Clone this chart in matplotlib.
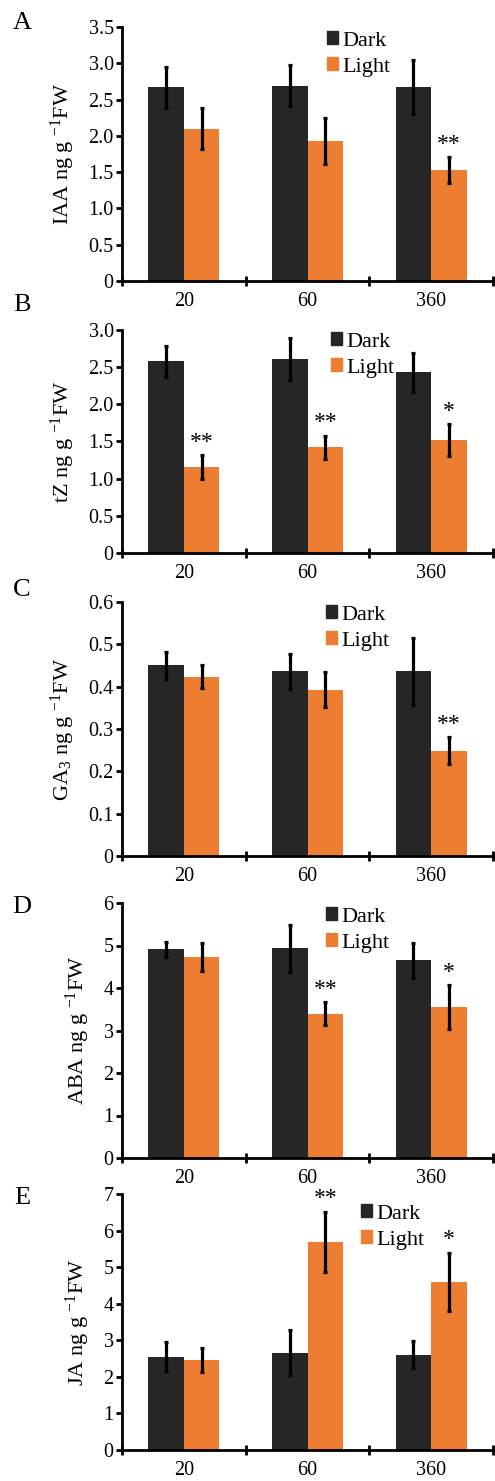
import matplotlib
matplotlib.use("Agg")
import matplotlib.pyplot as plt
import matplotlib.patches as mpatches
import numpy as np

plt.rcParams['font.family'] = ['Liberation Serif', 'DejaVu Serif']
plt.rcParams['mathtext.fontset'] = 'custom'
plt.rcParams['mathtext.rm'] = 'Liberation Serif'
plt.rcParams['mathtext.it'] = 'Liberation Serif:italic'

# time points (x categories)
categories = ['20', '60', '360']
series_names = ['Dark', 'Light']

# panel A: IAA
iaa_dark = [2.67, 2.69, 2.67]
iaa_dark_err = [0.28, 0.28, 0.37]
iaa_light = [2.10, 1.93, 1.53]
iaa_light_err = [0.28, 0.32, 0.18]
iaa_stars = ['', '', '**']

# panel B: tZ
tz_dark = [2.58, 2.61, 2.43]
tz_dark_err = [0.21, 0.28, 0.26]
tz_light = [1.16, 1.42, 1.52]
tz_light_err = [0.16, 0.16, 0.22]
tz_stars = ['**', '**', '*']

# panel C: GA3
ga_dark = [0.451, 0.436, 0.436]
ga_dark_err = [0.032, 0.042, 0.080]
ga_light = [0.424, 0.393, 0.249]
ga_light_err = [0.028, 0.042, 0.032]
ga_stars = ['', '', '**']

# panel D: ABA
aba_dark = [4.91, 4.93, 4.65]
aba_dark_err = [0.17, 0.55, 0.41]
aba_light = [4.73, 3.40, 3.55]
aba_light_err = [0.33, 0.28, 0.51]
aba_stars = ['', '**', '*']

# panel E: JA
ja_dark = [2.55, 2.66, 2.61]
ja_dark_err = [0.39, 0.62, 0.38]
ja_light = [2.46, 5.70, 4.60]
ja_light_err = [0.34, 0.82, 0.80]
ja_stars = ['', '**', '*']

panels = [
    ('A', 'IAA ng g $^{-1}$FW', iaa_dark, iaa_dark_err, iaa_light, iaa_light_err, iaa_stars,
     [0, 0.5, 1.0, 1.5, 2.0, 2.5, 3.0, 3.5]),
    ('B', 'tZ ng g $^{-1}$FW', tz_dark, tz_dark_err, tz_light, tz_light_err, tz_stars,
     [0, 0.5, 1.0, 1.5, 2.0, 2.5, 3.0]),
    ('C', 'GA$_{3}$ ng g $^{-1}$FW', ga_dark, ga_dark_err, ga_light, ga_light_err, ga_stars,
     [0, 0.1, 0.2, 0.3, 0.4, 0.5, 0.6]),
    ('D', 'ABA ng g $^{-1}$FW', aba_dark, aba_dark_err, aba_light, aba_light_err, aba_stars,
     [0, 1, 2, 3, 4, 5, 6]),
    ('E', 'JA ng g $^{-1}$FW', ja_dark, ja_dark_err, ja_light, ja_light_err, ja_stars,
     [0, 1, 2, 3, 4, 5, 6, 7]),
]

W, H = 495, 1481
# axes boxes in pixels: (top, bottom)
boxes = [(27, 281), (330, 553), (602, 856), (903, 1158), (1194, 1450)]
# legend anchor (x of square, y midway between rows), pixels from top
legend_pos = [(327, 54), (331, 355), (326, 628), (326, 930), (361, 1227)]
letter_y = [23, 305, 590, 907, 1198]

dark_c = '#262626'
light_c = '#ED7D31'

fig = plt.figure(figsize=(W / 100, H / 100), dpi=100)

x = np.arange(len(categories))
bw = 0.287

for k, (letter, ylab, dk, dke, lt, lte, stars, yticks) in enumerate(panels):
    top, bot = boxes[k]
    ax = fig.add_axes([122 / W, 1 - bot / H, (493 - 122) / W, (bot - top) / H])
    ekw = dict(elinewidth=2.3, capsize=1.7, capthick=2.3, ecolor='black')
    ax.bar(x - bw / 2, dk, bw, color=dark_c, yerr=dke, error_kw=ekw, zorder=2)
    ax.bar(x + bw / 2, lt, bw, color=light_c, yerr=lte, error_kw=ekw, zorder=2)

    ymax = yticks[-1]
    for i, s in enumerate(stars):
        if s:
            ax.annotate(s, (x[i] + bw / 2, lt[i] + lte[i]), xytext=(0, 1.5),
                        textcoords='offset points', ha='center', va='bottom',
                        fontsize=17)

    ax.set_xlim(-0.5, 2.5)
    ax.set_ylim(0, ymax)
    ax.set_xticks([-0.5, 0.5, 1.5, 2.5])
    ax.set_xticklabels([])
    ax.set_xticks(x, minor=True)
    ax.set_xticklabels(categories, minor=True)
    ax.tick_params(axis='x', which='major', direction='inout', length=7, width=2)
    ax.tick_params(axis='x', which='minor', length=0, pad=8, labelsize=14.5)
    ax.set_yticks(yticks)
    ax.set_yticklabels(['0' if v == 0 else (f'{v:.1f}' if ymax < 5 else f'{v:g}') for v in yticks])
    ax.tick_params(axis='y', direction='out', length=4, width=2, pad=2, labelsize=14.5)

    for side in ['top', 'right']:
        ax.spines[side].set_visible(False)
    for side in ['left', 'bottom']:
        ax.spines[side].set_linewidth(2)

    ax.set_ylabel(ylab, fontsize=16, labelpad=8)

    handles = [mpatches.Patch(color=dark_c), mpatches.Patch(color=light_c)]
    lx, ly = legend_pos[k]
    ax.legend(handles, series_names, loc='center left',
              bbox_to_anchor=(lx / W, 1 - ly / H), bbox_transform=fig.transFigure,
              frameon=False, fontsize=16, handlelength=0.5, handleheight=0.5,
              handletextpad=0.2, labelspacing=0.3, borderpad=0, borderaxespad=0)

    fig.text(22 / W, 1 - letter_y[k] / H, letter, fontsize=19, ha='center', va='center')

fig.savefig('out.png', dpi=100)
